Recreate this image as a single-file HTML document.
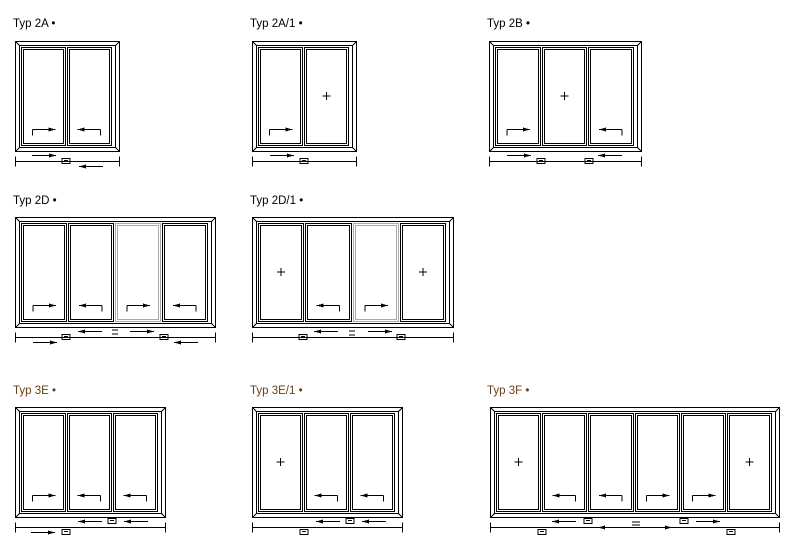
<!DOCTYPE html>
<html><head><meta charset="utf-8"><style>
html,body{margin:0;padding:0;background:#fff;width:798px;height:550px;overflow:hidden}
svg{display:block}
text{font-family:"Liberation Sans",sans-serif;font-size:11.5px}
</style></head><body>
<svg id="s" width="798" height="550" xmlns="http://www.w3.org/2000/svg" shape-rendering="crispEdges"></svg>
<script>
var s=document.getElementById('s'),out='';
function L(x1,y1,x2,y2,c){out+='<line x1="'+x1+'" y1="'+y1+'" x2="'+x2+'" y2="'+y2+'" stroke="'+(c||'#000')+'" stroke-width="1"/>';}
function R(x,y,w,h,c){out+='<rect x="'+x+'" y="'+y+'" width="'+w+'" height="'+h+'" fill="none" stroke="'+(c||'#000')+'" stroke-width="1"/>';}
function head(x,y,d){out+='<polygon points="'+x+','+y+' '+(x-7*d)+','+(y-2)+' '+(x-7*d)+','+(y+2)+'" fill="#000"/>';}
function arrow(x1,x2,y){L(x1,y,x2,y);head(x2,y,x2>x1?1:-1);}
function hook(x,y,d){R(x,y-3,8,5);L(x+2,y-1,x+6,y-1);}
function T(x,y,t,c){out+='<text x="'+x+'" y="'+y+'" fill="'+c+'">'+t+'</text>';}
function win(x,y,w,h,panes){
 R(x+.5,y+.5,w,h);R(x+4.5,y+4.5,w-8,h-8);
 L(x+.5,y+.5,x+4.5,y+4.5);L(x+w+.5,y+.5,x+w-3.5,y+4.5);
 L(x+.5,y+h+.5,x+4.5,y+h-3.5);L(x+w+.5,y+h+.5,x+w-3.5,y+h-3.5);
 var n=panes.length,ix=x+6,iw=w-12,pw=iw/n;
 for(var i=0;i<n;i++){
  var px=Math.round(ix+i*pw)+.5,pr=Math.round(ix+(i+1)*pw)-1.5,py=y+6.5,pb=y+h-5.5;
  var g=panes[i].g?'#aaa':'#000';
  R(px,py,pr-px,pb-py,g);R(px+2,py+2,pr-px-4,pb-py-4,g);
  var t=panes[i].t,cx=(px+pr)/2,by=y+h-21.5;
  if(t=='+'){L(cx-4,y+h/2,cx+4,y+h/2);L(cx,y+h/2-4,cx,y+h/2+4);}
  if(t=='R'){L(cx-11,by,cx+12,by);L(cx-11,by,cx-11,by+6);head(cx+12,by,1);}
  if(t=='L'){L(cx-12,by,cx+11,by);L(cx+11,by,cx+11,by+6);head(cx-12,by,-1);}
 }
 var ry=y+h+10.5;L(x+.5,ry,x+w+.5,ry);L(x+.5,ry-5,x+.5,ry+5);L(x+w+.5,ry-5,x+w+.5,ry+5);
}
var top='#1a2040',bot='#6a3e12';
T(13,27,'Typ 2A •',top);
T(250,27,'Typ 2A/1 •',top);
T(487,27,'Typ 2B •',top);
T(13,204,'Typ 2D •',top);
T(250,204,'Typ 2D/1 •',top);
T(13,394,'Typ 3E •',bot);
T(250,394,'Typ 3E/1 •',bot);
T(487,394,'Typ 3F •',bot);

win(15,41,104,110,[{t:'R'},{t:'L'}]);
arrow(32,56,155.5);arrow(103,79,166.5);hook(62,161.5);
win(252,41,104,110,[{t:'R'},{t:'+'}]);
arrow(270,294,155.5);hook(300,161.5);
win(489,41,152,110,[{t:'R'},{t:'+'},{t:'L'}]);
arrow(507,531,155.5);hook(537,161.5);arrow(622,598,155.5);hook(585,161.5);
win(15,217,200,110,[{t:'R'},{t:'L'},{t:'R',g:1},{t:'L'}]);
arrow(102,78,331.5);arrow(130,154,331.5);hook(62,337.5);hook(160,337.5);
arrow(33,57,342.5);arrow(198,174,342.5);L(112,330,118,330);L(112,334,118,334);
win(252,217,201,110,[{t:'+'},{t:'L'},{t:'R',g:1},{t:'+'}]);
arrow(338,314,331.5);arrow(368,392,331.5);hook(299,337.5);hook(397,337.5);L(349,331,355,331);L(349,335,355,335);
win(15,407,150,110,[{t:'R'},{t:'L'},{t:'L'}]);
arrow(102,78,521.5);arrow(148,124,521.5);hook(108,521.5);hook(62,532.5);arrow(31,55,532.5);
win(252,407,150,110,[{t:'+'},{t:'L'},{t:'L'}]);
arrow(340,316,521.5);arrow(386,362,521.5);hook(346,521.5);hook(300,532.5);
win(490,407,289,110,[{t:'+'},{t:'L'},{t:'L'},{t:'R'},{t:'R'},{t:'+'}]);
arrow(576,552,521.5);arrow(622,598,527.5);arrow(650,672,527.5);arrow(696,720,521.5);
hook(584,521.5);hook(680,521.5);hook(538,532.5);hook(727,532.5);L(632,522,640,522);L(632,525,640,525);
s.innerHTML=out;
</script>
</body></html>
